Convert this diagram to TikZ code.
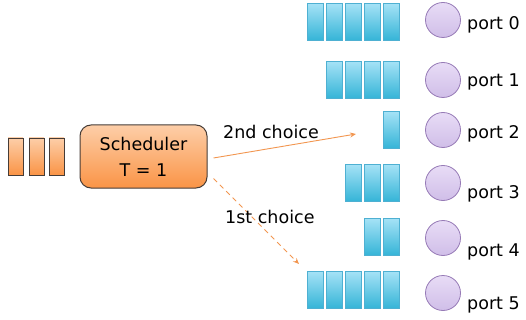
\documentclass[tikz,border=0pt]{standalone}
\usepackage{fontspec}
\setmainfont{DejaVu Sans}
\usetikzlibrary{arrows.meta}

\definecolor{pkttop}{RGB}{165,226,246}
\definecolor{pktbot}{RGB}{52,180,215}
\definecolor{pktedge}{RGB}{78,176,210}
\definecolor{orgtop}{RGB}{253,206,168}
\definecolor{orgbot}{RGB}{250,148,70}
\definecolor{orgedge}{RGB}{70,60,55}
\definecolor{porttop}{RGB}{232,220,246}
\definecolor{portbot}{RGB}{208,190,232}
\definecolor{portedge}{RGB}{150,122,182}
\definecolor{arrowc}{RGB}{242,150,80}

\tikzset{
  packet/.style={draw=pktedge, line width=0.8pt, top color=pkttop, bottom color=pktbot,
    minimum width=16pt, minimum height=37pt, inner sep=0pt},
  job/.style={draw=orgedge, line width=0.8pt, top color=orgtop, bottom color=orgbot,
    minimum width=15pt, minimum height=37pt, inner sep=0pt},
  portc/.style={circle, draw=portedge, line width=0.8pt, top color=porttop, bottom color=portbot,
    minimum size=35pt, inner sep=0pt},
  choice/.style={draw=arrowc, line width=0.9pt, -{Stealth[length=6pt,width=5pt]}},
  txt/.style={font=\fontsize{17.5}{21}\selectfont, inner sep=0pt}
}

\begin{document}
\begin{tikzpicture}[x=1pt,y=-1pt]
  \useasboundingbox (0,0) rectangle (526,320);

  % waiting jobs
  \foreach \k/\x in {1/15.5, 2/36.5, 3/56.5}
    \node[job] (job\k) at (\x,156.5) {};

  % scheduler
  \node[draw=orgedge, line width=1pt, top color=orgtop, bottom color=orgbot,
        rounded corners=11pt, minimum width=127pt, minimum height=63pt,
        align=center, txt] (sched) at (143.5,156.5)
        {Scheduler\\[5pt]T = 1};

  % queues, ports and their labels
  \foreach \i/\y/\n/\cy/\ly in {0/22/5/20/30, 1/80/4/80/87, 2/130/1/130/139,
                                3/183/3/183/198, 4/237/2/238/256, 5/290/5/293/309} {
    \foreach \k in {1,...,\n}
      \node[packet] (q\i-\k) at ({391-19*(\k-1)},\y) {};
    \node[portc] (p\i) at (443,\cy) {};
    \node[txt, anchor=base west] (l\i) at (467,\ly) {port \i};
  }

  % the two choices
  \coordinate (c2) at (356,134);
  \coordinate (c1) at (299,264);
  \draw[choice] ([xshift=6pt,yshift=-1.5pt]sched.east) -- (c2);
  \draw[choice, dashed, dash pattern=on 5pt off 4pt] ([xshift=6pt,yshift=-22pt]sched.east) -- (c1);
  \node[txt, anchor=base west] (t2) at (223,139) {2nd choice};
  \node[txt, anchor=base west] (t1) at (225,223) {1st choice};
\end{tikzpicture}
\end{document}
